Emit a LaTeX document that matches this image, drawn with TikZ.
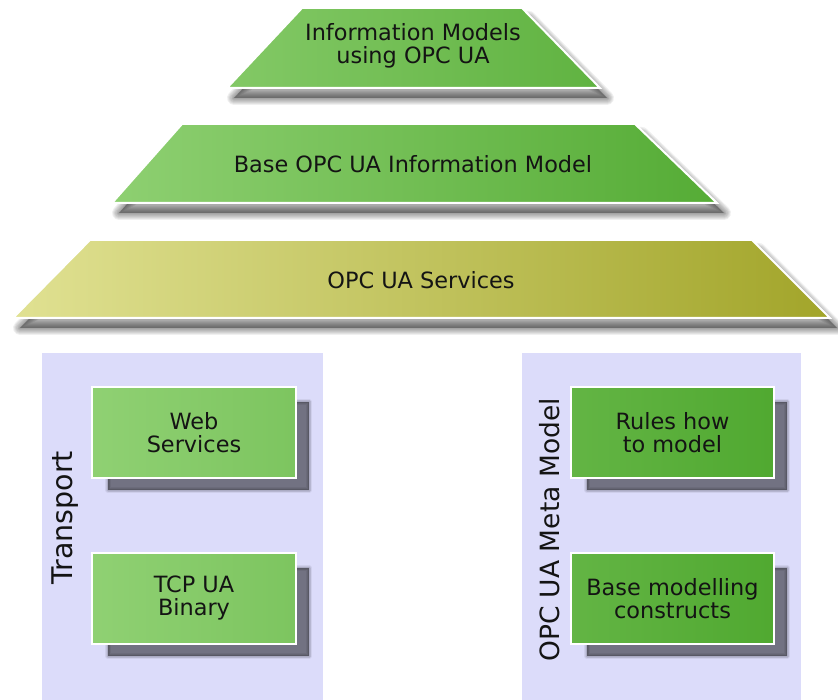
\documentclass[tikz,border=0pt]{standalone}
\usepackage{fontspec}
\setmainfont{DejaVu Sans}
\usetikzlibrary{calc}
\definecolor{gA}{HTML}{98D67C}
\definecolor{gB}{HTML}{4AA52A}
\definecolor{sA}{HTML}{E0E192}
\definecolor{sB}{HTML}{A2A52A}
\definecolor{lav}{HTML}{DCDCFA}
\colorlet{t1L}{gB!27!gA}\colorlet{t1R}{gB!72!gA}
\colorlet{t2L}{gB!13!gA}\colorlet{t2R}{gB!86!gA}
\colorlet{bLL}{gB!11!gA}\colorlet{bLR}{gB!35!gA}
\colorlet{bRL}{gB!68!gA}\colorlet{bRR}{gB!92!gA}
% #1 shift, #2 path, #3 core opacity, #4 list of stroke widths
\newcommand\softshadow[4]{%
  \fill[black, opacity=#3, shift={#1}] #2;
  \foreach \w in {#4}{\draw[black, opacity=0.06, line width=\w pt, line join=round, shift={#1}] #2;}}
\begin{document}
\begin{tikzpicture}[x=1pt,y=-1pt,
  trapstyle/.style={draw=white, line width=2pt, line join=miter},
  txt/.style={font=\fontsize{22.4}{23}\selectfont, text=black!92, align=center, inner sep=0pt},
  lbl/.style={text=black!92, inner sep=0pt, rotate=90},
  box/.style={draw=white, line width=2pt, minimum width=204pt, minimum height=91pt,
    inner sep=0pt, font=\fontsize{22.4}{23}\selectfont, text=black!92, align=center}]
\useasboundingbox (0,0) rectangle (838,700);
\fill[white] (0,0) rectangle (838,700);
% panels
\fill[lav] (42,353) rectangle (323,700);
\fill[lav] (522,353) rectangle (801,700);
% trapezoid shadows
\softshadow{(7,10)}{(302,8)--(522,8)--(600,88)--(227,88)--cycle}{0.33}{2,4,6,8,10,12,14}
\softshadow{(7,10)}{(182,124)--(635,124)--(717,203)--(112,203)--cycle}{0.33}{2,4,6,8,10,12,14}
\softshadow{(7,10)}{(90,240)--(752,240)--(830,318)--(13,318)--cycle}{0.33}{2,4,6,8,10,12,14}
% trapezoids
\draw[trapstyle, left color=t1L, right color=t1R] (302,8)--(522,8)--(600,88)--(227,88)--cycle;
\draw[trapstyle, left color=t2L, right color=t2R] (182,124)--(635,124)--(717,203)--(112,203)--cycle;
\draw[trapstyle, left color=sA, right color=sB] (90,240)--(752,240)--(830,318)--(13,318)--cycle;
\node[txt] (im) at (413,46) {Information Models\\using OPC UA};
\node[txt] (base) at (413,164) {Base OPC UA Information Model};
\node[txt] (serv) at (421,280) {OPC UA Services};
% box shadows
\softshadow{(0,0)}{(108,402) rectangle (309,490)}{0.48}{1.5,3,4.5,6}
\softshadow{(0,0)}{(108,568) rectangle (309,656)}{0.48}{1.5,3,4.5,6}
\softshadow{(0,0)}{(587,402) rectangle (787,490)}{0.48}{1.5,3,4.5,6}
\softshadow{(0,0)}{(587,568) rectangle (787,656)}{0.48}{1.5,3,4.5,6}
% boxes
\node[box, left color=bLL, right color=bLR] (ws) at (194,432.5) {Web\\Services};
\node[box, left color=bLL, right color=bLR] (tcp) at (194,598.5) {TCP UA\\Binary};
\node[box, minimum width=203pt, left color=bRL, right color=bRR] (rules) at (672.5,432.5) {Rules how\\to model};
\node[box, minimum width=203pt, left color=bRL, right color=bRR] (bmc) at (672.5,598.5) {Base modelling\\constructs};
% labels
\node[lbl, font=\fontsize{28.5}{30}\selectfont] (tr) at (65,518) {Transport};
\node[lbl, font=\fontsize{26.5}{28}\selectfont] (meta) at (550,530) {OPC UA Meta Model};
\end{tikzpicture}
\end{document}
